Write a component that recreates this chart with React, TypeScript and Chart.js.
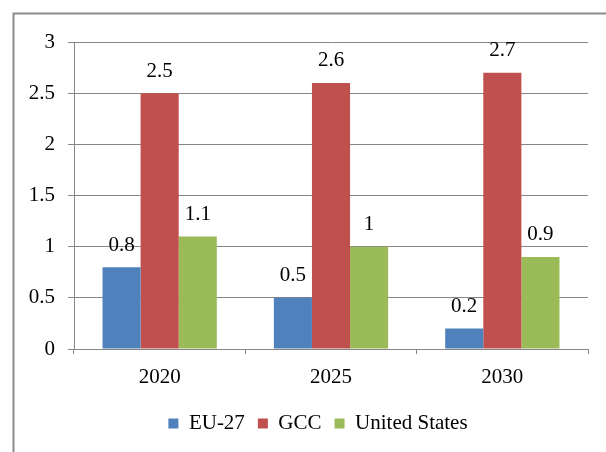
import React, { useEffect, useRef } from "react";
import { Chart, registerables } from "chart.js";

Chart.register(...registerables);

const years = ["2020", "2025", "2030"];
const eu27 = [0.8, 0.5, 0.2];
const gcc = [2.5, 2.6, 2.7];
const unitedStates = [1.1, 1.0, 0.9];
const seriesNames = ["EU-27", "GCC", "United States"];
const seriesColors = ["#4F81BD", "#C0504D", "#9BBB59"];

const FONT = "'Liberation Serif', 'Times New Roman', serif";
const AXIS_GRAY = "#868686";
const LEGEND_SHIFT = 24;

// Gray frame around the chart (left and top edges); legend nudged right
const framePlugin = {
  id: "frame",
  afterLayout(chart: any) {
    const legend = chart.legend;
    if (legend) {
      legend.left += LEGEND_SHIFT;
      legend.right += LEGEND_SHIFT;
    }
  },
  beforeDraw(chart: any) {
    const { ctx, width, height } = chart;
    ctx.save();
    ctx.fillStyle = "#ffffff";
    ctx.fillRect(0, 0, width, height);
    ctx.strokeStyle = "#8c8c8c";
    ctx.lineWidth = 2;
    ctx.beginPath();
    ctx.moveTo(13.5, height);
    ctx.lineTo(13.5, 13.5);
    ctx.lineTo(width, 13.5);
    ctx.stroke();
    ctx.restore();
  },
};

// Value labels above each bar
const valueLabelPlugin = {
  id: "valueLabels",
  afterDatasetsDraw(chart: any) {
    const { ctx } = chart;
    ctx.save();
    ctx.font = `21px ${FONT}`;
    ctx.fillStyle = "#000000";
    ctx.textAlign = "center";
    ctx.textBaseline = "middle";
    chart.data.datasets.forEach((ds: any, di: number) => {
      const meta = chart.getDatasetMeta(di);
      meta.data.forEach((bar: any, i: number) => {
        const v = ds.data[i];
        ctx.fillText(String(v), bar.x, bar.y - 22);
      });
    });
    ctx.restore();
  },
};

export default function App() {
  const canvasRef = useRef<HTMLCanvasElement | null>(null);

  useEffect(() => {
    const canvas = canvasRef.current;
    if (!canvas) return;
    const chart = new Chart(canvas, {
      type: "bar",
      data: {
        labels: years,
        datasets: [eu27, gcc, unitedStates].map((values, i) => ({
          label: seriesNames[i],
          data: values,
          backgroundColor: seriesColors[i],
          borderWidth: 0,
          categoryPercentage: 0.667,
          barPercentage: 1,
        })),
      },
      options: {
        responsive: false,
        animation: false,
        devicePixelRatio: 1,
        layout: { padding: { left: 0, top: 42, right: 18, bottom: 8 } },
        plugins: {
          tooltip: { enabled: false },
          legend: {
            position: "bottom",
            labels: {
              boxWidth: 10,
              boxHeight: 10,
              padding: 13,
              color: "#000000",
              font: { family: FONT, size: 21 },
            },
          },
        },
        scales: {
          x: {
            grid: {
              drawOnChartArea: false,
              drawTicks: true,
              tickLength: 5,
              color: AXIS_GRAY,
              offset: true,
            },
            border: { color: AXIS_GRAY, width: 1 },
            ticks: {
              color: "#000000",
              padding: 11,
              font: { family: FONT, size: 21 },
            },
            afterFit(scale: any) {
              scale.height = 51;
            },
          },
          y: {
            min: 0,
            max: 3,
            grid: { color: AXIS_GRAY, tickLength: 6 },
            border: { color: AXIS_GRAY, width: 1 },
            ticks: {
              stepSize: 0.5,
              color: "#000000",
              padding: 13,
              font: { family: FONT, size: 21 },
              callback: (v: any) => String(Number(v)),
            },
            afterFit(scale: any) {
              scale.width = 74;
            },
          },
        },
      },
      plugins: [framePlugin, valueLabelPlugin],
    });
    return () => chart.destroy();
  }, []);

  return (
    <div style={{ position: "fixed", left: 0, top: 0, width: 606, height: 452, background: "#fff" }}>
      <canvas ref={canvasRef} width={606} height={452} />
    </div>
  );
}
